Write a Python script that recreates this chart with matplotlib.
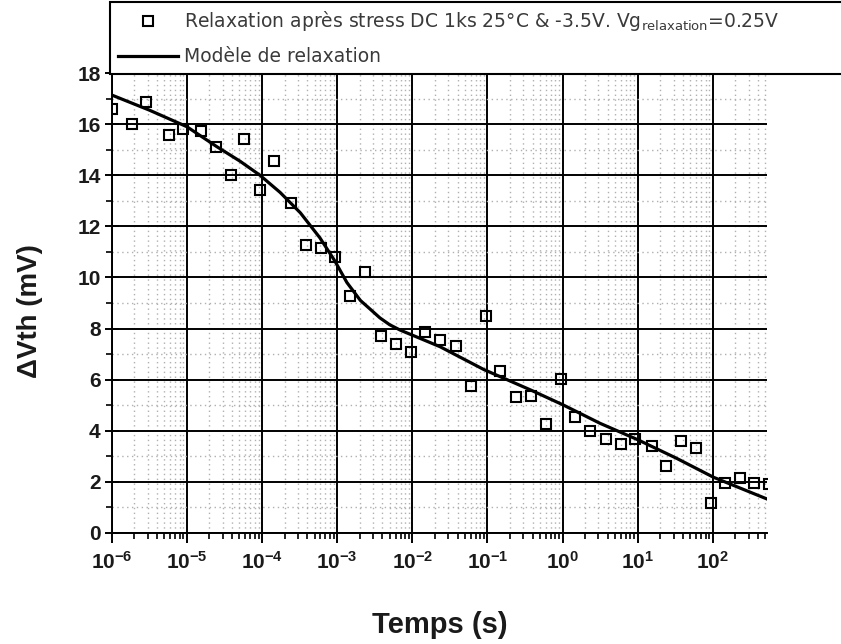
import numpy as np
import matplotlib
matplotlib.use('Agg')
import matplotlib.pyplot as plt
from matplotlib.ticker import LogLocator, NullFormatter, MultipleLocator

plt.rcParams['font.family'] = ['Liberation Sans', 'DejaVu Sans']
plt.rcParams['mathtext.default'] = 'regular'

# --- Mesures (relaxation après stress) ---
temps_mesure = [1.0e-6, 1.86e-6, 2.84e-6, 5.8e-6, 8.97e-6, 1.55e-5, 2.43e-5, 3.92e-5,
                5.78e-5, 9.33e-5, 1.46e-4, 2.44e-4, 3.83e-4, 6.12e-4, 9.4e-4, 1.48e-3,
                2.38e-3, 3.83e-3, 6.11e-3, 9.57e-3, 1.49e-2, 2.37e-2, 3.85e-2, 6.08e-2,
                9.55e-2, 0.148, 0.237, 0.377, 0.607, 0.94, 1.48, 2.34, 3.74, 5.92,
                9.29, 15.5, 23.6, 37.3, 59.7, 95.5, 147, 232, 357, 562]
dvth_mesure = [16.6, 16.0, 16.87, 15.56, 15.8, 15.73, 15.11, 14.01,
               15.40, 13.41, 14.54, 12.90, 11.26, 11.15, 10.81, 9.28,
               10.21, 7.72, 7.41, 7.09, 7.88, 7.56, 7.30, 5.74,
               8.50, 6.35, 5.31, 5.36, 4.28, 6.04, 4.53, 4.00, 3.67, 3.49,
               3.68, 3.40, 2.63, 3.60, 3.33, 1.17, 1.94, 2.14, 1.94, 1.92]

# --- Modèle de relaxation ---
temps_modele = [1.0e-6, 3.16e-6, 1.0e-5, 2.5e-5, 5.1e-5, 9.4e-5, 1.74e-4, 3.24e-4,
                5.9e-4, 9.3e-4, 1.35e-3, 2.04e-3, 2.9e-3, 3.7e-3, 5.0e-3, 6.9e-3,
                1.26e-2, 2.34e-2, 8.9e-2, 0.38, 1.02, 3.16, 10, 33, 102, 525]
dvth_modele = [17.14, 16.55, 15.9, 15.12, 14.55, 14.0, 13.33, 12.53,
               11.55, 10.65, 9.8, 9.1, 8.7, 8.42, 8.15, 7.94,
               7.62, 7.29, 6.4, 5.59, 5.01, 4.29, 3.65, 2.92, 2.18, 1.33]

label_mesure = "Relaxation après stress DC 1ks 25°C & -3.5V. Vg$_{relaxation}$=0.25V"
label_modele = "Modèle de relaxation"

fig = plt.figure(figsize=(8.41, 6.44), dpi=100)
ax = fig.add_axes([0.1328, 0.1724, 0.912 - 0.1328, 0.8866 - 0.1724])

pts, = ax.plot(temps_mesure, dvth_mesure, ls='none', marker='s', mfc='none',
               mec='black', ms=7.5, mew=1.5, zorder=3, label=label_mesure)
ligne, = ax.plot(temps_modele, dvth_modele, color='black', lw=2.3, zorder=4,
                 label=label_modele)

ax.set_xscale('log')
ax.set_xlim(1e-6, 525)
ax.set_ylim(0, 18)

ax.xaxis.set_major_locator(LogLocator(base=10, numticks=20))
ax.xaxis.set_minor_locator(LogLocator(base=10, subs=np.arange(2, 10), numticks=100))
ax.xaxis.set_minor_formatter(NullFormatter())
ax.yaxis.set_major_locator(MultipleLocator(2))
ax.yaxis.set_minor_locator(MultipleLocator(1))

ax.set_axisbelow(True)
ax.grid(which='major', color='black', lw=1.4)
ax.grid(which='minor', color='#b0b0b0', ls=(0, (1, 2.5)), lw=1.0)

ax.spines['right'].set_visible(False)
for s in ['left', 'bottom', 'top']:
    ax.spines[s].set_linewidth(1.4)

ax.tick_params(axis='y', which='major', direction='inout', length=10, width=1.4,
               labelsize=15, pad=3)
ax.tick_params(axis='y', which='minor', direction='out', length=4, width=1.2)
ax.tick_params(axis='x', which='major', direction='out', length=7, width=1.4,
               labelsize=15, pad=6)
ax.tick_params(axis='x', which='minor', direction='out', length=4, width=1.2)
ax.tick_params(right=False, top=False, which='both')
for lab in ax.get_xticklabels() + ax.get_yticklabels():
    lab.set_fontweight('bold')
    lab.set_color('#1a1a1a')

ax.set_xlabel("Temps (s)", fontsize=21, fontweight='bold', color='#1a1a1a')
ax.xaxis.set_label_coords(0.5, -0.17)
ax.set_ylabel("ΔVth (mV)", fontsize=20, fontweight='bold', color='#1a1a1a')
ax.yaxis.set_label_coords(-0.105, 0.483)

leg = fig.legend(handles=[pts, ligne], loc='upper left',
                 bbox_to_anchor=(0.131, 0.997, 0.95, 0.0), mode='expand',
                 prop={'family': 'DejaVu Sans', 'size': 13.5},
                 handlelength=3.2, handletextpad=0.35,
                 labelspacing=0.75, borderpad=0.4, borderaxespad=0.0,
                 fancybox=False, framealpha=1.0, edgecolor='black')
leg.get_frame().set_linewidth(1.5)
for t in leg.get_texts():
    t.set_color('#3a3a3a')

fig.savefig('out.png', dpi=100)
